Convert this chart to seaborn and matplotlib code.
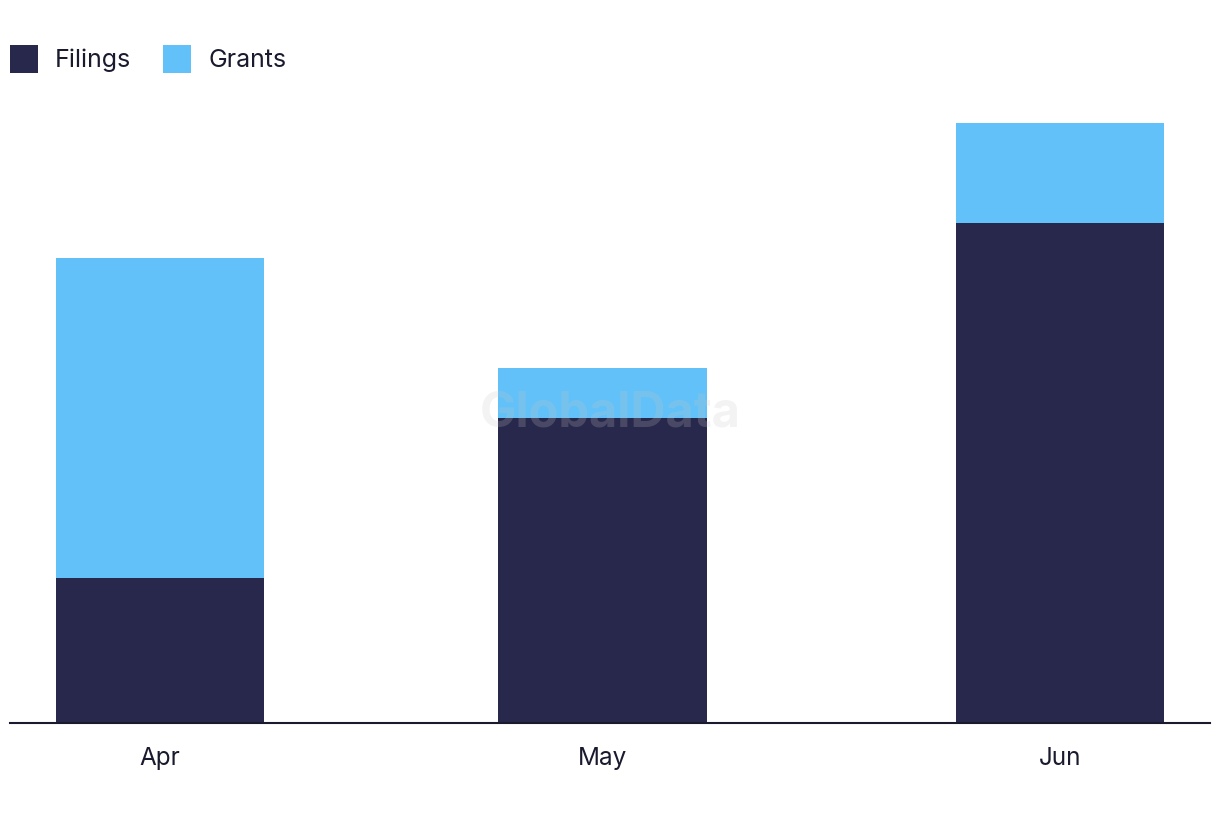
import matplotlib
matplotlib.use("Agg")
import matplotlib.pyplot as plt
import seaborn as sns
import pandas as pd
from matplotlib.patches import Patch

# Data
months = ["Apr", "May", "Jun"]
day_offsets = [0, 30, 61]          # days from 1 Apr (time axis)
filings = [29, 61, 100]
grants = [64, 10, 20]

dark = "#27284B"
light = "#62C1F8"

sns.set_theme(style="white")
plt.rcParams["font.family"] = ["Inter", "DejaVu Sans"]

df = pd.DataFrame({"month": months, "day": day_offsets,
                   "filings": filings, "grants": grants})
df["total"] = df["filings"] + df["grants"]

fig = plt.figure(figsize=(12.2, 8.22), dpi=100)
ax = fig.add_axes([10/1220, 99/822, 1200/1220, 623/822])

w = 0.4707
sns.barplot(data=df, x="day", y="total", native_scale=True, width=w,
            color=light, saturation=1, linewidth=0, ax=ax, errorbar=None)
sns.barplot(data=df, x="day", y="filings", native_scale=True, width=w,
            color=dark, saturation=1, linewidth=0, ax=ax, errorbar=None)

ax.set_xlim(-10.17, 71.17)
ax.set_ylim(0, 124.6)
ax.set_xticks(day_offsets)
ax.set_xticklabels(months, fontsize=17.5, color="#1a1a2e")
ax.tick_params(axis="x", length=0, pad=17.5)
ax.set_yticks([])
ax.set_xlabel("")
ax.set_ylabel("")
for s in ["left", "right", "top"]:
    ax.spines[s].set_visible(False)
ax.spines["bottom"].set_color("#1a1a2e")
ax.spines["bottom"].set_linewidth(1.5)

# Watermark
ax.text(0.5, (822 - 413 - 99) / 623, "GlobalData", transform=ax.transAxes,
        ha="center", va="center", fontsize=35, fontweight="bold",
        color="#c8c8c8", alpha=0.21, zorder=10)

handles = [Patch(facecolor=dark, edgecolor="none"),
           Patch(facecolor=light, edgecolor="none")]
fig.legend(handles, ["Filings", "Grants"], loc="upper left",
           bbox_to_anchor=(10/1220, 1 - 45/822), ncol=2, frameon=False,
           fontsize=18, handlelength=1.12, handleheight=1.346,
           handletextpad=0.68, columnspacing=1.28, borderpad=0,
           borderaxespad=0, labelcolor="#1a1a2e")

fig.savefig("out.png", dpi=100)
